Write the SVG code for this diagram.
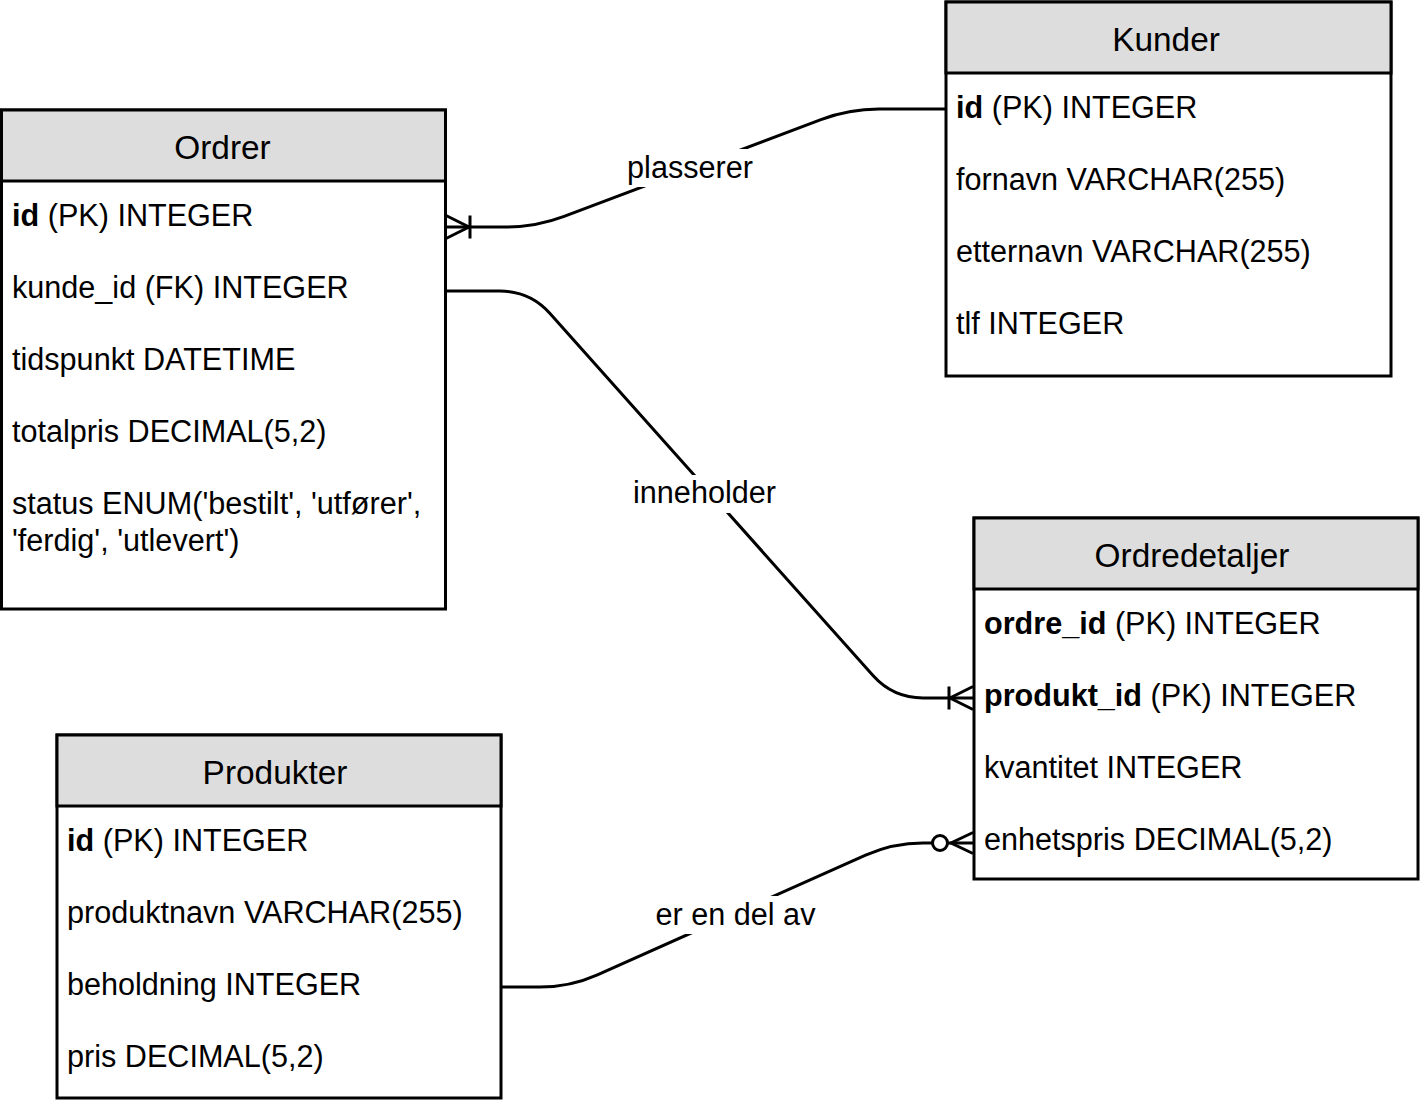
<svg xmlns="http://www.w3.org/2000/svg" width="1423" height="1106" viewBox="0 0 1423 1106">
  <style>
    .box { fill: #ffffff; stroke: #000000; stroke-width: 3; }
    .head { fill: #dddddd; stroke: #000000; stroke-width: 3; }
    .title { font-family: "Liberation Sans", Arial, Helvetica, sans-serif; font-size: 33.4px; fill: #000000; text-anchor: middle; }
    .row { font-family: "Liberation Sans", Arial, Helvetica, sans-serif; font-size: 30.6px; fill: #000000; }
    .b { font-weight: bold; }
    .edge { fill: none; stroke: #000000; stroke-width: 3; }
    .lbl { font-family: "Liberation Sans", Arial, Helvetica, sans-serif; font-size: 30.6px; fill: #000000; text-anchor: middle; }
    .lblbg { fill: #ffffff; stroke: none; }
  </style>
  <defs>
    <marker id="oneToMany" markerUnits="userSpaceOnUse" markerWidth="1" markerHeight="1" refX="0" refY="0" orient="auto" overflow="visible">
      <path d="M 0 -11.5 L -23 0 L 0 11.5 M -24 -11.5 L -24 11.5" fill="none" stroke="#000000" stroke-width="3"/>
    </marker>
    <marker id="zeroToMany" markerUnits="userSpaceOnUse" markerWidth="1" markerHeight="1" refX="0" refY="0" orient="auto" overflow="visible">
      <path d="M 0 -10.5 L -22 0 L 0 10.5" fill="none" stroke="#000000" stroke-width="3"/>
      <circle cx="-33" cy="0" r="7.5" fill="#ffffff" stroke="#000000" stroke-width="3"/>
    </marker>
  </defs>

  <g id="connectors">
    <g id="edge-plasserer">
      <path class="edge" d="M 946 109 H 879 Q 849 109 820.9 119.6 L 564.1 216.4 Q 536 227 506 227 H 446" marker-end="url(#oneToMany)"/>
      <rect class="lblbg" x="622" y="149" width="135" height="38"/>
      <text class="lbl" x="690" y="178">plasserer</text>
    </g>
    <g id="edge-inneholder">
      <path class="edge" d="M 446 291 H 500 Q 530 291 550 313.4 L 873 675.6 Q 893 698 923 698 H 973" marker-end="url(#oneToMany)"/>
      <rect class="lblbg" x="631" y="475" width="147" height="38"/>
      <text class="lbl" x="704.5" y="503">inneholder</text>
    </g>
    <g id="edge-erendelav">
      <path class="edge" d="M 502 987 H 540 Q 570 987 597.4 974.8 L 865.6 855.2 Q 893 843 923 843 H 973" marker-end="url(#zeroToMany)"/>
      <rect class="lblbg" x="653" y="896" width="165" height="38"/>
      <text class="lbl" x="735.5" y="925">er en del av</text>
    </g>
  </g>

  <g id="node-ordrer">
    <rect class="box" x="1.5" y="110" width="444" height="499"/>
    <rect class="head" x="1.5" y="110" width="444" height="71"/>
    <text class="title" x="222.5" y="158.5">Ordrer</text>
    <text class="row" x="12" y="226"><tspan class="b">id</tspan> (PK) INTEGER</text>
    <text class="row" x="12" y="298">kunde_id (FK) INTEGER</text>
    <text class="row" x="12" y="370">tidspunkt DATETIME</text>
    <text class="row" x="12" y="442">totalpris DECIMAL(5,2)</text>
    <text class="row" x="12" y="514">status ENUM('bestilt', 'utfører',</text>
    <text class="row" x="12" y="551">'ferdig', 'utlevert')</text>
  </g>

  <g id="node-kunder">
    <rect class="box" x="946" y="2" width="445" height="374"/>
    <rect class="head" x="946" y="2" width="445" height="71"/>
    <text class="title" x="1166" y="50.5">Kunder</text>
    <text class="row" x="956" y="118"><tspan class="b">id</tspan> (PK) INTEGER</text>
    <text class="row" x="956" y="190">fornavn VARCHAR(255)</text>
    <text class="row" x="956" y="262">etternavn VARCHAR(255)</text>
    <text class="row" x="956" y="334">tlf INTEGER</text>
  </g>

  <g id="node-ordredetaljer">
    <rect class="box" x="974" y="518" width="444" height="361"/>
    <rect class="head" x="974" y="518" width="444" height="71"/>
    <text class="title" x="1192" y="566.5">Ordredetaljer</text>
    <text class="row" x="984" y="634"><tspan class="b">ordre_id</tspan> (PK) INTEGER</text>
    <text class="row" x="984" y="706"><tspan class="b">produkt_id</tspan> (PK) INTEGER</text>
    <text class="row" x="984" y="778">kvantitet INTEGER</text>
    <text class="row" x="984" y="850">enhetspris DECIMAL(5,2)</text>
  </g>

  <g id="node-produkter">
    <rect class="box" x="57" y="735" width="444" height="363"/>
    <rect class="head" x="57" y="735" width="444" height="71"/>
    <text class="title" x="275" y="783.5">Produkter</text>
    <text class="row" x="67" y="851"><tspan class="b">id</tspan> (PK) INTEGER</text>
    <text class="row" x="67" y="923">produktnavn VARCHAR(255)</text>
    <text class="row" x="67" y="995">beholdning INTEGER</text>
    <text class="row" x="67" y="1067">pris DECIMAL(5,2)</text>
  </g>
</svg>
